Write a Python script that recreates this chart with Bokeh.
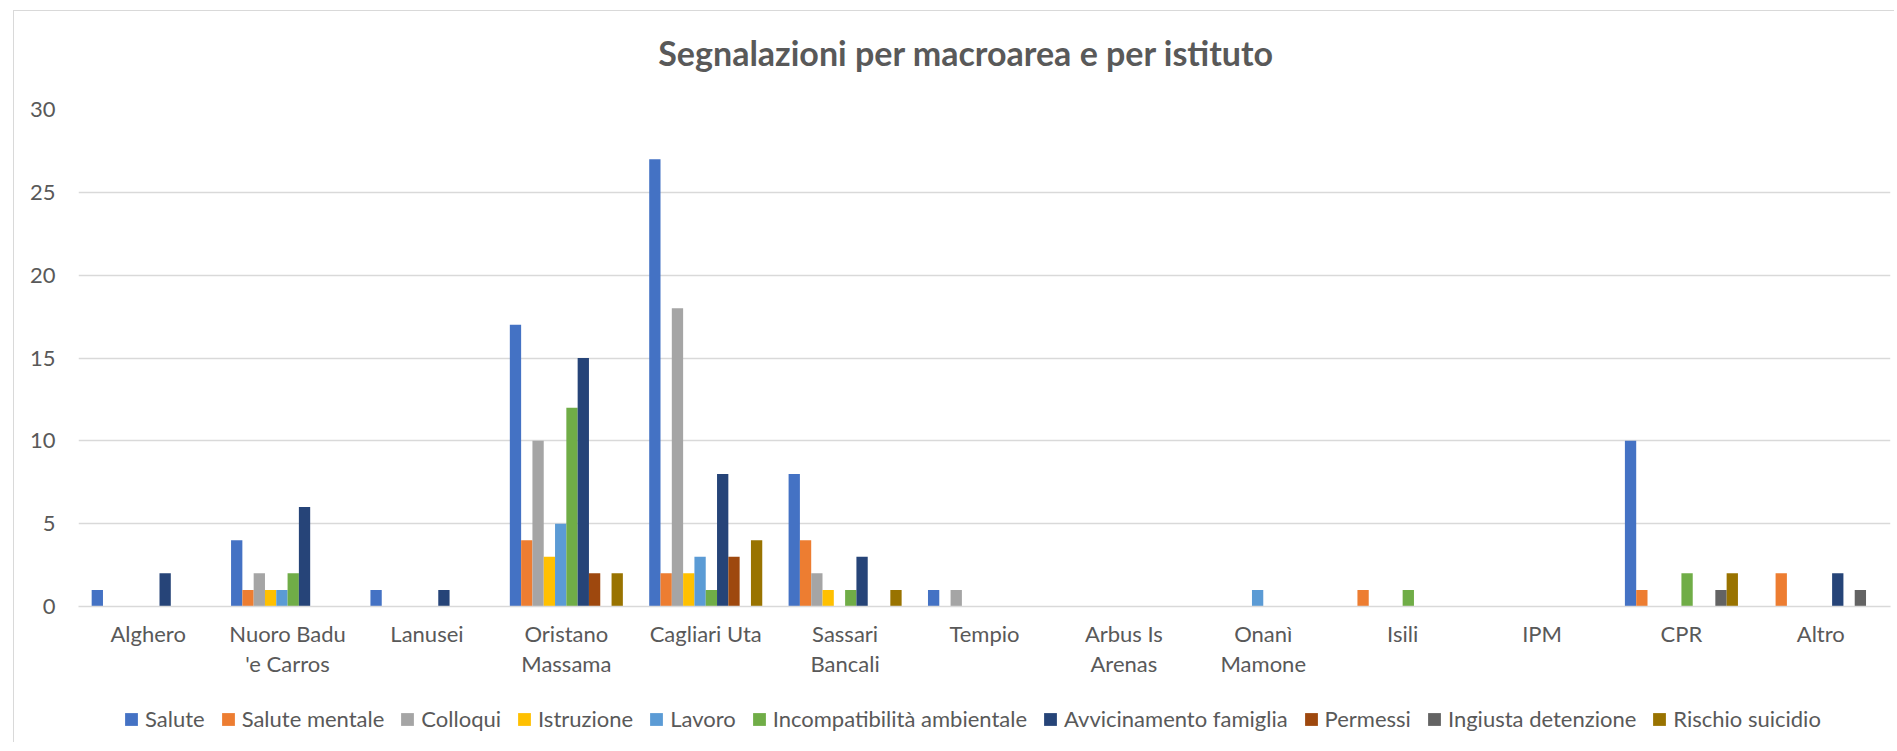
import json
from bokeh.plotting import figure
from bokeh.layouts import column
from bokeh.models import (ColumnDataSource, Legend, LegendItem, FixedTicker, CategoricalAxis,
                          CustomJSTickFormatter, Label)
from bokeh.transform import dodge
from bokeh.embed import file_html
from bokeh.resources import INLINE

categories = ["Alghero", "Nuoro Badu 'e Carros", "Lanusei", "Oristano Massama", "Cagliari Uta",
              "Sassari Bancali", "Tempio", "Arbus Is Arenas", "Onanì Mamone", "Isili", "IPM", "CPR", "Altro"]
label_line1 = ["Alghero", "Nuoro Badu", "Lanusei", "Oristano", "Cagliari Uta",
               "Sassari", "Tempio", "Arbus Is", "Onanì", "Isili", "IPM", "CPR", "Altro"]
label_line2 = ["", "'e Carros", "", "Massama", "",
               "Bancali", "", "Arenas", "Mamone", "", "", "", ""]

series_names = ["Salute", "Salute mentale", "Colloqui", "Istruzione", "Lavoro",
                "Incompatibilità ambientale", "Avvicinamento famiglia", "Permessi",
                "Ingiusta detenzione", "Rischio suicidio"]

salute = [1, 4, 1, 17, 27, 8, 1, 0, 0, 0, 0, 10, 0]
salute_mentale = [0, 1, 0, 4, 2, 4, 0, 0, 0, 1, 0, 1, 2]
colloqui = [0, 2, 0, 10, 18, 2, 1, 0, 0, 0, 0, 0, 0]
istruzione = [0, 1, 0, 3, 2, 1, 0, 0, 0, 0, 0, 0, 0]
lavoro = [0, 1, 0, 5, 3, 0, 0, 0, 1, 0, 0, 0, 0]
incompatibilita = [0, 2, 0, 12, 1, 1, 0, 0, 0, 1, 0, 2, 0]
avvicinamento = [2, 6, 1, 15, 8, 3, 0, 0, 0, 0, 0, 0, 2]
permessi = [0, 0, 0, 2, 3, 0, 0, 0, 0, 0, 0, 0, 0]
ingiusta = [0, 0, 0, 0, 0, 0, 0, 0, 0, 0, 0, 1, 1]
rischio = [0, 0, 0, 2, 4, 1, 0, 0, 0, 0, 0, 2, 0]

colors = ["#4472C4", "#ED7D31", "#A5A5A5", "#FFC000", "#5B9BD5",
          "#70AD47", "#264478", "#9E480E", "#636363", "#997300"]

y_ticks = [0, 5, 10, 15, 20, 25, 30]

all_series = [salute, salute_mentale, colloqui, istruzione, lavoro,
              incompatibilita, avvicinamento, permessi, ingiusta, rischio]

TITLE = "Segnalazioni per macroarea e per istituto"

data = {"cat": categories}
for i, s in enumerate(all_series):
    data[f"s{i}"] = s
source = ColumnDataSource(data)

FONT = "Lato"
TXT = "#595959"
W = 1880


def bare(fig):
    fig.title = None
    fig.axis.visible = False
    fig.grid.visible = False
    fig.outline_line_color = None
    fig.background_fill_color = "white"
    fig.border_fill_color = "white"
    fig.min_border = 0
    return fig


# --- title strip ---
pt = bare(figure(width=W, height=84, x_range=(0, 1), y_range=(0, 1),
                 output_backend="svg", toolbar_location=None))
pt.add_layout(Label(x=0.490, y=0.512, text=TITLE, text_align="center", text_baseline="middle",
                    text_font=FONT, text_font_style="bold", text_font_size="34px",
                    text_color=TXT))

# --- main chart ---
p = figure(x_range=categories, y_range=(0, 30), width=W, height=606,
           output_backend="svg", toolbar_location=None,
           min_border_left=64, min_border_right=4, min_border_top=14, min_border_bottom=95)
p.title = None
p.x_range.range_padding = 0
p.outline_line_color = None
p.background_fill_color = "white"
p.border_fill_color = "white"

bw = 0.0811
for i, name in enumerate(series_names):
    p.vbar(x=dodge("cat", (i - 4.5) * bw, range=p.x_range), top=f"s{i}", width=bw,
           bottom=0, source=source, fill_color=colors[i], line_color=None)

p.ygrid.grid_line_color = "#d9d9d9"
p.ygrid.grid_line_width = 1.5
p.xgrid.grid_line_color = None

p.yaxis.ticker = FixedTicker(ticks=y_ticks)
p.yaxis.axis_line_color = None
p.yaxis.major_tick_line_color = None
p.yaxis.minor_tick_line_color = None
p.yaxis.major_tick_out = 0
p.yaxis.major_label_standoff = 23
p.yaxis.major_label_text_font = FONT
p.yaxis.major_label_text_font_size = "22px"
p.yaxis.major_label_text_color = TXT


def fmt(mapping):
    return CustomJSTickFormatter(code="const m = " + json.dumps(mapping) + "; return m[tick];")


p.xaxis.axis_line_color = "#d9d9d9"
p.xaxis.axis_line_width = 1.5
p.xaxis.major_tick_line_color = None
p.xaxis.major_tick_out = 0
p.xaxis.major_label_standoff = 13
p.xaxis.major_label_text_font = FONT
p.xaxis.major_label_text_font_size = "22px"
p.xaxis.major_label_text_color = TXT
p.xaxis.formatter = fmt(dict(zip(categories, label_line1)))

ax2 = CategoricalAxis(axis_line_color=None, major_tick_line_color=None, minor_tick_line_color=None,
                      major_tick_out=0, major_tick_in=0, major_label_standoff=0,
                      major_label_text_font=FONT, major_label_text_font_size="22px",
                      major_label_text_color=TXT,
                      formatter=fmt(dict(zip(categories, label_line2))))
p.add_layout(ax2, "below")

# --- legend strip (series drawn off-range so only legend swatches show) ---
pl = bare(figure(width=W, height=41, x_range=categories, y_range=(100, 101),
                 output_backend="svg", toolbar_location=None))
items = []
for i, name in enumerate(series_names):
    r = pl.vbar(x="cat", top=f"s{i}", width=bw, source=source,
                fill_color=colors[i], line_color=None)
    items.append(LegendItem(label=name, renderers=[r]))
legend = Legend(items=items, orientation="horizontal", location=(45, 10),
                label_text_font=FONT, label_text_font_size="22px", label_text_color=TXT,
                glyph_width=16, glyph_height=16, label_standoff=6, spacing=15,
                border_line_color=None, background_fill_alpha=0, padding=0, margin=0)
pl.add_layout(legend)

layout = column(pt, p, pl, spacing=0)
layout.styles = {"border-left": "1px solid #d9d9d9", "border-top": "1px solid #d9d9d9",
                 "margin-left": "13px", "margin-top": "10px"}

open("out.html", "w").write(file_html(layout, INLINE))
